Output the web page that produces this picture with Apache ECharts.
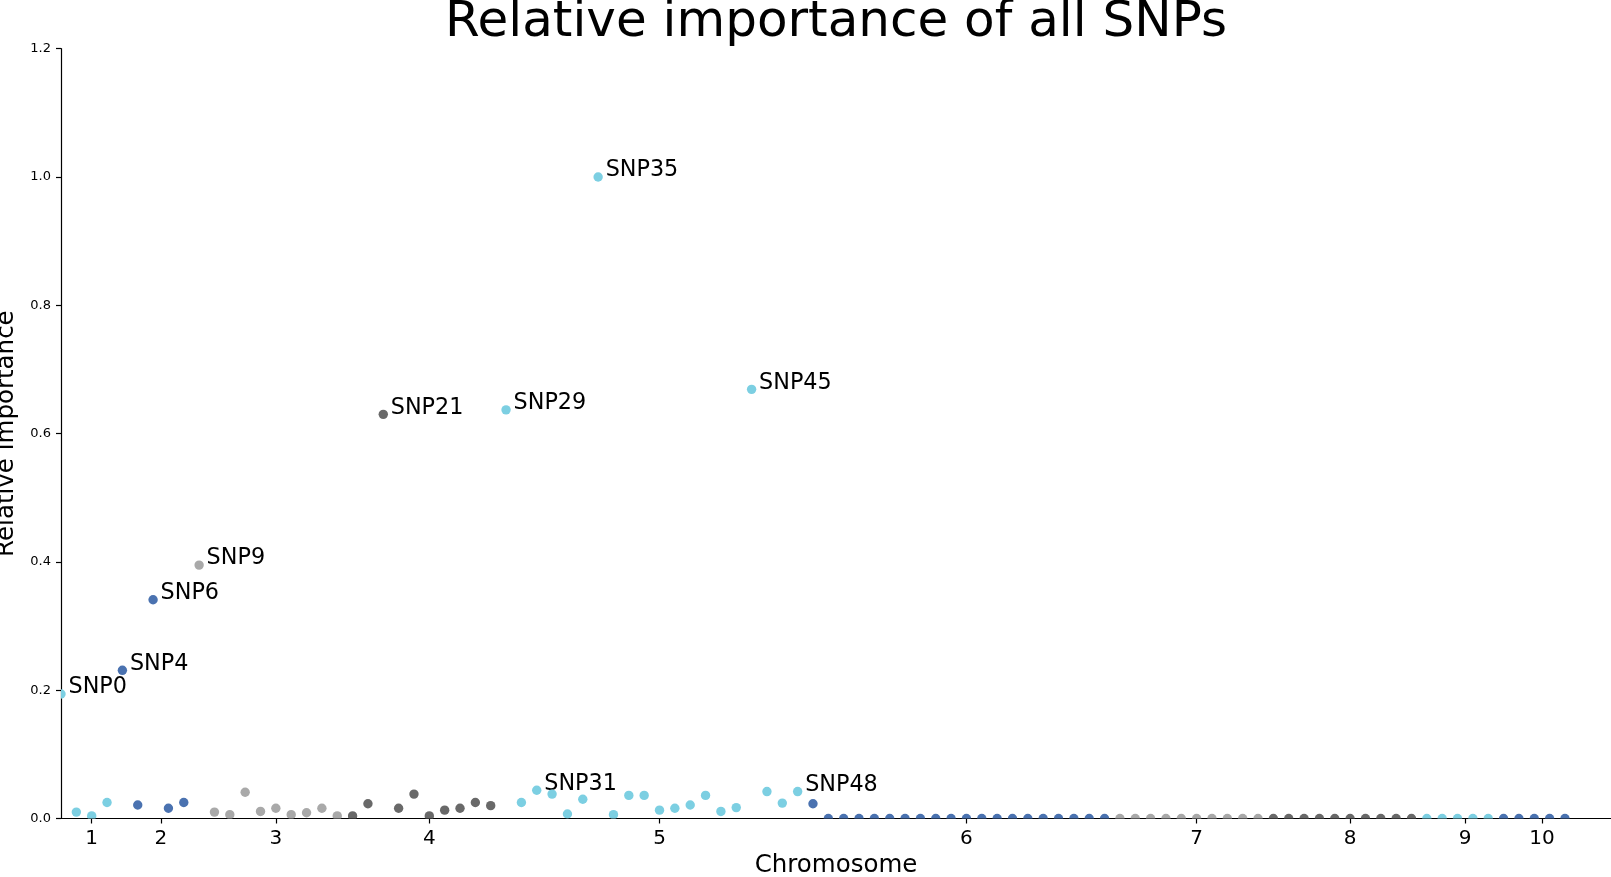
<!DOCTYPE html>
<html>
<head>
<meta charset="utf-8">
<title>Relative importance of all SNPs</title>
<script src="https://cdn.jsdelivr.net/npm/echarts@6.0.0/dist/echarts.min.js"></script>
<style>
  html, body { margin: 0; padding: 0; background: #fff; }
  #chart { width: 1611px; height: 877px; }
</style>
</head>
<body>
<div id="chart"></div>
<script>
const chromosomes = ["1", "2", "3", "4", "5", "6", "7", "8", "9", "10"];
const chromSizes = [4, 5, 10, 10, 20, 20, 10, 10, 5, 5];

// relative importance per SNP, SNP0 .. SNP98
const importance = [
  0.194, 0.010, 0.004, 0.025,
  0.231, 0.021, 0.341, 0.016, 0.025,
  0.395, 0.010, 0.006, 0.041, 0.011, 0.016, 0.006, 0.009, 0.016, 0.004,
  0.004, 0.023, 0.630, 0.016, 0.038, 0.004, 0.013, 0.016, 0.025, 0.020,
  0.637, 0.025, 0.044, 0.038, 0.007, 0.030, 1.000, 0.006, 0.036, 0.036,
  0.013, 0.016, 0.021, 0.036, 0.011, 0.017, 0.669, 0.042, 0.024, 0.042,
  0.023, 0, 0, 0, 0, 0, 0, 0, 0, 0, 0, 0, 0, 0, 0, 0, 0, 0, 0, 0,
  0, 0, 0, 0, 0, 0, 0, 0, 0, 0,
  0, 0, 0, 0, 0, 0, 0, 0, 0, 0,
  0, 0, 0, 0, 0,
  0, 0, 0, 0, 0
];

const labelled = [0, 4, 6, 9, 21, 29, 31, 35, 45, 48];
const palette = ["#7ccfe2", "#4a72b0", "#a9a9a9", "#696969"];
const font = '"DejaVu Sans", sans-serif';

// build points and chromosome tick positions
const points = [];
const tickPos = [];
let start = 0;
chromSizes.forEach((size, c) => {
  for (let i = start; i < start + size; i++) {
    points.push([i, importance[i], c]);
  }
  tickPos.push(start + size / 2);
  start += size;
});

const chart = echarts.init(document.getElementById("chart"));

chart.setOption({
  animation: false,
  title: {
    text: "Relative importance of all SNPs",
    left: 836,
    textAlign: "center",
    top: -2,
    padding: 0,
    textStyle: { fontSize: 50, fontWeight: "normal", color: "#000", fontFamily: font },
  },
  grid: {
    left: 61,
    right: 0,
    top: 48.7,
    bottom: 58.5,
    containLabel: false,
    outerBoundsMode: "none",
  },
  xAxis: {
    type: "value",
    min: 0,
    max: 101,
    name: "Chromosome",
    nameLocation: "middle",
    nameGap: 33,
    nameTextStyle: { fontSize: 24.5, color: "#000", fontFamily: font },
    axisLine: { show: true, lineStyle: { color: "#000", width: 1.2 } },
    axisTick: { show: true, length: 5, customValues: tickPos, lineStyle: { color: "#000", width: 1.2 } },
    axisLabel: {
      customValues: tickPos,
      formatter: (v) => {
        let best = 0;
        tickPos.forEach((t, k) => { if (Math.abs(t - v) < Math.abs(tickPos[best] - v)) best = k; });
        return chromosomes[best];
      },
      fontSize: 20,
      color: "#000",
      fontFamily: font,
      margin: 10,
    },
    splitLine: { show: false },
  },
  yAxis: {
    type: "value",
    min: 0,
    max: 1.2,
    interval: 0.2,
    name: "Relative importance",
    nameLocation: "middle",
    nameRotate: 90,
    nameGap: 33,
    nameTextStyle: { fontSize: 24.5, color: "#000", fontFamily: font },
    axisLine: { show: true, lineStyle: { color: "#000", width: 1.2 } },
    axisTick: { show: true, length: 5, lineStyle: { color: "#000", width: 1.2 } },
    axisLabel: {
      formatter: (v) => v.toFixed(1),
      fontSize: 13,
      color: "#000",
      fontFamily: font,
      margin: 10,
    },
    splitLine: { show: false },
  },
  series: [
    {
      type: "custom",
      clip: true,
      data: points,
      encode: { x: 0, y: 1 },
      renderItem: (params, api) => {
        const i = api.value(0);
        const pt = api.coord([i, api.value(1)]);
        const children = [
          {
            type: "circle",
            shape: { cx: pt[0], cy: pt[1], r: 4.7 },
            style: { fill: palette[api.value(2) % palette.length] },
          },
        ];
        if (labelled.includes(i)) {
          children.push({
            type: "text",
            x: pt[0] + 7.5,
            y: pt[1] - 6.5,
            style: {
              text: "SNP" + i,
              fill: "#000",
              font: "22.3px " + font,
              align: "left",
              verticalAlign: "middle",
            },
          });
        }
        return { type: "group", children };
      },
    },
  ],
});

window.addEventListener("resize", () => chart.resize());
</script>
</body>
</html>
